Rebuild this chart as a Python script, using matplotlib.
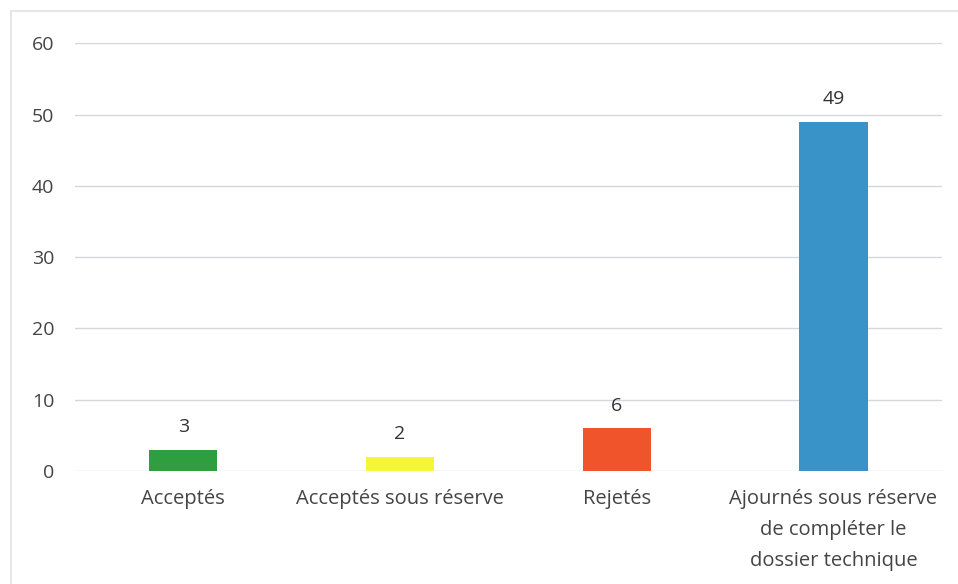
import matplotlib
matplotlib.use("Agg")
import matplotlib.pyplot as plt
from matplotlib.patches import Rectangle

categories = ["Acceptés", "Acceptés sous réserve", "Rejetés",
              "Ajournés sous réserve\nde compléter le\ndossier technique"]
values = [3, 2, 6, 49]
colors = ["#2e9e3f", "#f5f53a", "#f0542a", "#3a93c8"]
yticks = [0, 10, 20, 30, 40, 50, 60]

plt.rcParams['font.family'] = ['Open Sans', 'DejaVu Sans']

fig = plt.figure(figsize=(9.58, 5.84), dpi=100)
ax = fig.add_axes([0.0783, 0.1935, 0.9047, 0.7325])

x = list(range(len(categories)))
bars = ax.bar(x, values, width=0.315, color=colors, zorder=3)
for xi, v in zip(x, values):
    ax.text(xi, v + 1.9, str(v), ha="center", va="bottom", fontsize=14, color="#333333")

ax.set_xlim(-0.5, 3.5)
ax.set_ylim(0, 60)
ax.set_yticks(yticks)
ax.set_yticklabels([str(t) for t in yticks], fontsize=14, color="#444444")
ax.set_xticks(x)
ax.set_xticklabels(categories, fontsize=14.5, color="#444444", linespacing=1.72)
ax.tick_params(axis="y", length=0, pad=15)
ax.tick_params(axis="x", length=0, pad=13)
ax.grid(axis="y", color="#d4d8dc", linewidth=1, zorder=0)
for s in ax.spines.values():
    s.set_visible(False)

# faint scan border
fig.patches.append(Rectangle((0.011, -0.01), 1.0, 0.992, transform=fig.transFigure,
                             fill=False, edgecolor="#e2e2e2", linewidth=1.2))

fig.savefig("out.png", dpi=100)
